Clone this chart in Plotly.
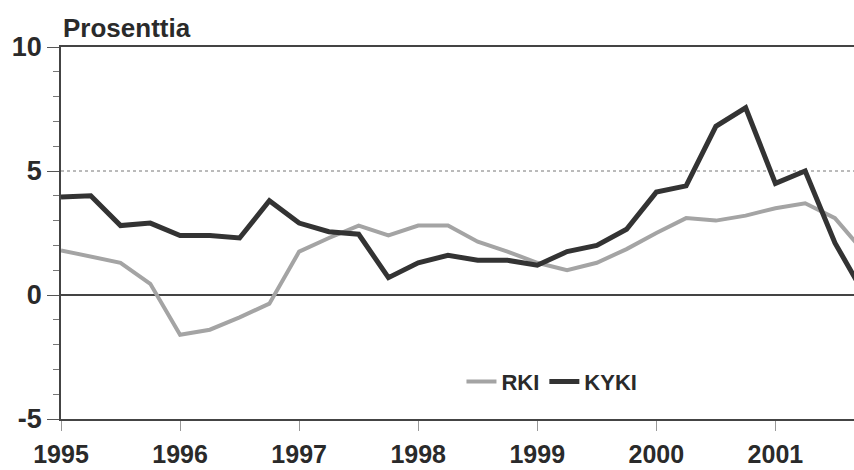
import plotly.graph_objects as go

years = [1995 + i * 0.25 for i in range(28)]
rki = [1.8, 1.55, 1.3, 0.45, -1.6, -1.4, -0.9, -0.35, 1.75, 2.3, 2.8, 2.4, 2.8, 2.8,
       2.15, 1.75, 1.3, 1.0, 1.3, 1.85, 2.5, 3.1, 3.0, 3.2, 3.5, 3.7, 3.1, 1.7]
kyki = [3.95, 4.0, 2.8, 2.9, 2.4, 2.4, 2.3, 3.8, 2.9, 2.55, 2.45, 0.7, 1.3, 1.6,
        1.4, 1.4, 1.2, 1.75, 2.0, 2.65, 4.15, 4.4, 6.8, 7.55, 4.5, 5.0, 2.1, 0.0]
x_ticks = [1995, 1996, 1997, 1998, 1999, 2000, 2001]
y_ticks = [-5, 0, 5, 10]

FONT = "Liberation Sans Narrow, Liberation Sans, Arial, sans-serif"
TXT = "#2a2a2a"

fig = go.Figure()
fig.add_trace(go.Scatter(x=years, y=rki, name="RKI", mode="lines",
                         line=dict(color="#a4a4a4", width=4)))
fig.add_trace(go.Scatter(x=years, y=kyki, name="KYKI", mode="lines",
                         line=dict(color="#333333", width=5)))

fig.add_shape(type="line", xref="paper", x0=0, x1=1, yref="y", y0=5, y1=5,
              line=dict(color="#777777", width=1, dash="dot"), layer="below")

fig.update_layout(
    width=854, height=470,
    margin=dict(l=61, r=0, t=47, b=51, autoexpand=False),
    paper_bgcolor="white", plot_bgcolor="white",
    font=dict(family=FONT, color=TXT, size=22, weight="bold"),
    showlegend=True,
    legend=dict(orientation="h", x=0.505, y=0.1, xanchor="left", yanchor="middle",
                font=dict(size=22, family=FONT, color=TXT, weight="bold"),
                itemwidth=30, bgcolor="rgba(0,0,0,0)"),
    annotations=[dict(text="Prosenttia", xref="paper", yref="paper", x=0, y=1,
                      xanchor="left", yanchor="bottom", yshift=2, showarrow=False,
                      font=dict(size=26, family=FONT, color=TXT, weight="bold"))],
)
fig.update_xaxes(range=[1995, 2001.66], tickvals=x_ticks, ticktext=[str(v) for v in x_ticks],
                 showgrid=False, zeroline=False, showline=True, linecolor="#444444", linewidth=1.5,
                 mirror=True, ticks="outside", ticklen=10, tickcolor="#999999", tickwidth=1,
                 ticklabelstandoff=2, automargin=False,
                 tickfont=dict(size=25, family=FONT, color=TXT, weight="bold"))
fig.update_yaxes(range=[-5, 10], tickvals=y_ticks, ticktext=[str(v) for v in y_ticks],
                 showgrid=False, zeroline=True, zerolinecolor="#444444", zerolinewidth=1.5,
                 showline=True, linecolor="#444444", linewidth=1.5,
                 ticks="outside", ticklen=12, tickcolor="#555555", tickwidth=1,
                 minor=dict(dtick=1, ticks="outside", ticklen=6, tickcolor="#777777", tickwidth=1),
                 automargin=False,
                 tickfont=dict(size=27, family=FONT, color=TXT, weight="bold"))

fig.write_html("out.html", config={"displayModeBar": False},
               post_script="document.body.style.margin='0';")
